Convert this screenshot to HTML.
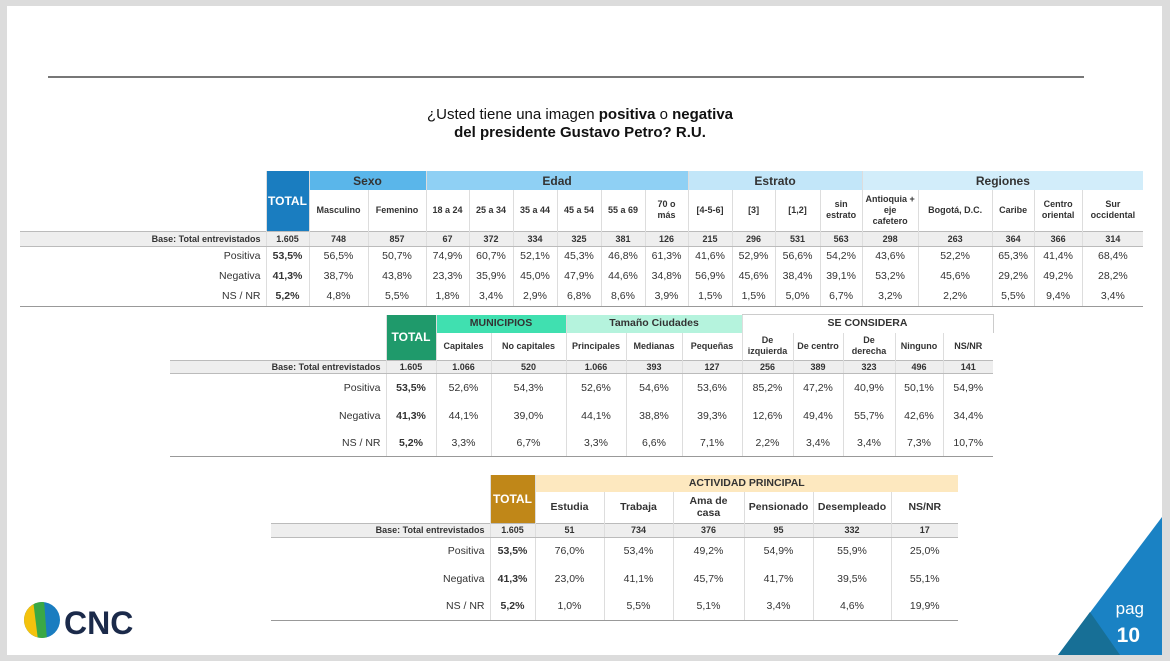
<!DOCTYPE html>
<html><head><meta charset="utf-8"><style>
*{margin:0;padding:0;box-sizing:border-box}
body{width:1170px;height:661px;background:#dcdcdc;position:relative;overflow:hidden;font-family:"Liberation Sans",sans-serif}
#slide{position:absolute;left:7px;top:6px;width:1155px;height:649px;background:#fff}
table{position:absolute;border-collapse:collapse;table-layout:fixed;font-size:10.5px;color:#333}
td{text-align:center;vertical-align:middle;padding:0;border-left:1px solid #ddd;white-space:nowrap;overflow:hidden}
td.l{text-align:right;padding-right:5px;border-left:none}
tr.base td{background:#eee;font-weight:bold;font-size:9px;border-top:1px solid #bbb;border-bottom:1px solid #bbb}
tr.base td.e{background:#fff;border:none}
.h{font-weight:bold;font-size:12px}
.s{font-weight:bold;font-size:9px;line-height:11px}
.tot{color:#fff;font-weight:bold;font-size:12px}
.b{font-weight:bold}
tr.last td{border-bottom:1px solid #999}
</style></head><body>
<div id="slide"></div>
<div style="position:absolute;left:48px;top:76px;width:1036px;height:2px;background:#777"></div>
<div style="position:absolute;left:0;width:1170px;top:106px;text-align:center;font-size:15px;line-height:18px;color:#111;padding-left:0"><div style="margin-left:-10px">¿Usted tiene una imagen <b>positiva</b> o <b>negativa</b></div><div style="font-weight:bold;margin-left:-10px">del presidente Gustavo Petro? R.U.</div></div>

<table style="left:20px;top:171px;width:1123px">
<colgroup><col style="width:246px"><col style="width:43px"><col style="width:59px"><col style="width:58px"><col style="width:43px"><col style="width:44px"><col style="width:44px"><col style="width:44px"><col style="width:44px"><col style="width:43px"><col style="width:44px"><col style="width:43px"><col style="width:45px"><col style="width:42px"><col style="width:56px"><col style="width:74px"><col style="width:42px"><col style="width:48px"><col style="width:61px"></colgroup>
<tr style="height:19px"><td class="l" rowspan="2"></td><td rowspan="2" class="tot" style="background:#1a7dc0;vertical-align:middle">TOTAL</td><td colspan="2" class="h" style="background:#5ab6ea;color:#333">Sexo</td><td colspan="6" class="h" style="background:#8fd0f4">Edad</td><td colspan="4" class="h" style="background:#c2e6f9">Estrato</td><td colspan="5" class="h" style="background:#d2edfa">Regiones</td></tr>
<tr style="height:41px" class="s"><td>Masculino</td><td>Femenino</td><td>18 a 24</td><td>25 a 34</td><td>35 a 44</td><td>45 a 54</td><td>55 a 69</td><td>70 o<br>más</td><td>[4-5-6]</td><td>[3]</td><td>[1,2]</td><td>sin<br>estrato</td><td>Antioquia +<br>eje<br>cafetero</td><td>Bogotá, D.C.</td><td>Caribe</td><td>Centro<br>oriental</td><td>Sur<br>occidental</td></tr>
<tr class="base" style="height:15px"><td class="l">Base: Total entrevistados</td><td>1.605</td><td>748</td><td>857</td><td>67</td><td>372</td><td>334</td><td>325</td><td>381</td><td>126</td><td>215</td><td>296</td><td>531</td><td>563</td><td>298</td><td>263</td><td>364</td><td>366</td><td>314</td></tr>
<tr style="height:20px"><td class="l">Positiva</td><td class="b">53,5%</td><td>56,5%</td><td>50,7%</td><td>74,9%</td><td>60,7%</td><td>52,1%</td><td>45,3%</td><td>46,8%</td><td>61,3%</td><td>41,6%</td><td>52,9%</td><td>56,6%</td><td>54,2%</td><td>43,6%</td><td>52,2%</td><td>65,3%</td><td>41,4%</td><td>68,4%</td></tr>
<tr style="height:20px"><td class="l">Negativa</td><td class="b">41,3%</td><td>38,7%</td><td>43,8%</td><td>23,3%</td><td>35,9%</td><td>45,0%</td><td>47,9%</td><td>44,6%</td><td>34,8%</td><td>56,9%</td><td>45,6%</td><td>38,4%</td><td>39,1%</td><td>53,2%</td><td>45,6%</td><td>29,2%</td><td>49,2%</td><td>28,2%</td></tr>
<tr style="height:20px" class="last"><td class="l">NS / NR</td><td class="b">5,2%</td><td>4,8%</td><td>5,5%</td><td>1,8%</td><td>3,4%</td><td>2,9%</td><td>6,8%</td><td>8,6%</td><td>3,9%</td><td>1,5%</td><td>1,5%</td><td>5,0%</td><td>6,7%</td><td>3,2%</td><td>2,2%</td><td>5,5%</td><td>9,4%</td><td>3,4%</td></tr>
</table>

<table style="left:170px;top:314px;width:823px">
<colgroup><col style="width:216px"><col style="width:50px"><col style="width:55px"><col style="width:75px"><col style="width:60px"><col style="width:56px"><col style="width:60px"><col style="width:51px"><col style="width:50px"><col style="width:52px"><col style="width:48px"><col style="width:50px"></colgroup>
<tr style="height:18px"><td class="l" rowspan="2"></td><td rowspan="2" class="tot" style="background:#1f9a6b">TOTAL</td><td colspan="2" class="s" style="background:#40e0b0;font-size:10.5px">MUNICIPIOS</td><td colspan="3" class="s" style="background:#b5f3dd;font-size:10.5px">Tamaño Ciudades</td><td colspan="5" class="s" style="background:#fff;font-size:10.5px;border-top:1px solid #ccc;border-right:1px solid #ccc">SE CONSIDERA</td></tr>
<tr style="height:28px" class="s"><td>Capitales</td><td>No capitales</td><td>Principales</td><td>Medianas</td><td>Pequeñas</td><td>De<br>izquierda</td><td>De centro</td><td>De<br>derecha</td><td>Ninguno</td><td>NS/NR</td></tr>
<tr class="base" style="height:13px"><td class="l">Base: Total entrevistados</td><td>1.605</td><td>1.066</td><td>520</td><td>1.066</td><td>393</td><td>127</td><td>256</td><td>389</td><td>323</td><td>496</td><td>141</td></tr>
<tr style="height:28px"><td class="l">Positiva</td><td class="b">53,5%</td><td>52,6%</td><td>54,3%</td><td>52,6%</td><td>54,6%</td><td>53,6%</td><td>85,2%</td><td>47,2%</td><td>40,9%</td><td>50,1%</td><td>54,9%</td></tr>
<tr style="height:28px"><td class="l">Negativa</td><td class="b">41,3%</td><td>44,1%</td><td>39,0%</td><td>44,1%</td><td>38,8%</td><td>39,3%</td><td>12,6%</td><td>49,4%</td><td>55,7%</td><td>42,6%</td><td>34,4%</td></tr>
<tr style="height:27px" class="last"><td class="l">NS / NR</td><td class="b">5,2%</td><td>3,3%</td><td>6,7%</td><td>3,3%</td><td>6,6%</td><td>7,1%</td><td>2,2%</td><td>3,4%</td><td>3,4%</td><td>7,3%</td><td>10,7%</td></tr>
</table>

<table style="left:271px;top:475px;width:687px">
<colgroup><col style="width:219px"><col style="width:45px"><col style="width:69px"><col style="width:69px"><col style="width:71px"><col style="width:69px"><col style="width:78px"><col style="width:67px"></colgroup>
<tr style="height:17px"><td class="l" rowspan="2"></td><td rowspan="2" class="tot" style="background:#c08718">TOTAL</td><td colspan="6" class="s" style="background:#fde8bf;font-size:10.5px">ACTIVIDAD PRINCIPAL</td></tr>
<tr style="height:31px" class="s" ><td style="font-size:10.5px">Estudia</td><td style="font-size:10.5px">Trabaja</td><td style="font-size:10.5px;line-height:12px">Ama de<br>casa</td><td style="font-size:10.5px">Pensionado</td><td style="font-size:10.5px">Desempleado</td><td style="font-size:10.5px">NS/NR</td></tr>
<tr class="base" style="height:14px"><td class="l">Base: Total entrevistados</td><td>1.605</td><td>51</td><td>734</td><td>376</td><td>95</td><td>332</td><td>17</td></tr>
<tr style="height:28px"><td class="l">Positiva</td><td class="b">53,5%</td><td>76,0%</td><td>53,4%</td><td>49,2%</td><td>54,9%</td><td>55,9%</td><td>25,0%</td></tr>
<tr style="height:28px"><td class="l">Negativa</td><td class="b">41,3%</td><td>23,0%</td><td>41,1%</td><td>45,7%</td><td>41,7%</td><td>39,5%</td><td>55,1%</td></tr>
<tr style="height:27px" class="last"><td class="l">NS / NR</td><td class="b">5,2%</td><td>1,0%</td><td>5,5%</td><td>5,1%</td><td>3,4%</td><td>4,6%</td><td>19,9%</td></tr>
</table>

<svg style="position:absolute;left:0;top:0" width="1170" height="661">
<polygon points="1162,517 1162,655 1058,655" fill="#1a82c4"/>
<polygon points="1090,612 1120,655 1058,655" fill="#176f96"/>
<clipPath id="c"><circle cx="42" cy="620" r="18"/></clipPath>
<g clip-path="url(#c)"><rect x="20" y="600" width="40" height="40" fill="#1a7dc0"/><polygon points="24,600 38,600 42,640 24,640" fill="#f4c20d"/><polygon points="33,600 44,600 47,640 38,640" fill="#3aa845"/></g>
<text x="64" y="634" font-family="Liberation Sans" font-weight="bold" font-size="32" fill="#1b2a4a">CNC</text>
<text x="1144" y="614" text-anchor="end" font-family="Liberation Sans" font-size="17" fill="#fff">pag</text>
<text x="1140" y="642" text-anchor="end" font-family="Liberation Sans" font-weight="bold" font-size="21" fill="#fff">10</text>
</svg>
</body></html>
